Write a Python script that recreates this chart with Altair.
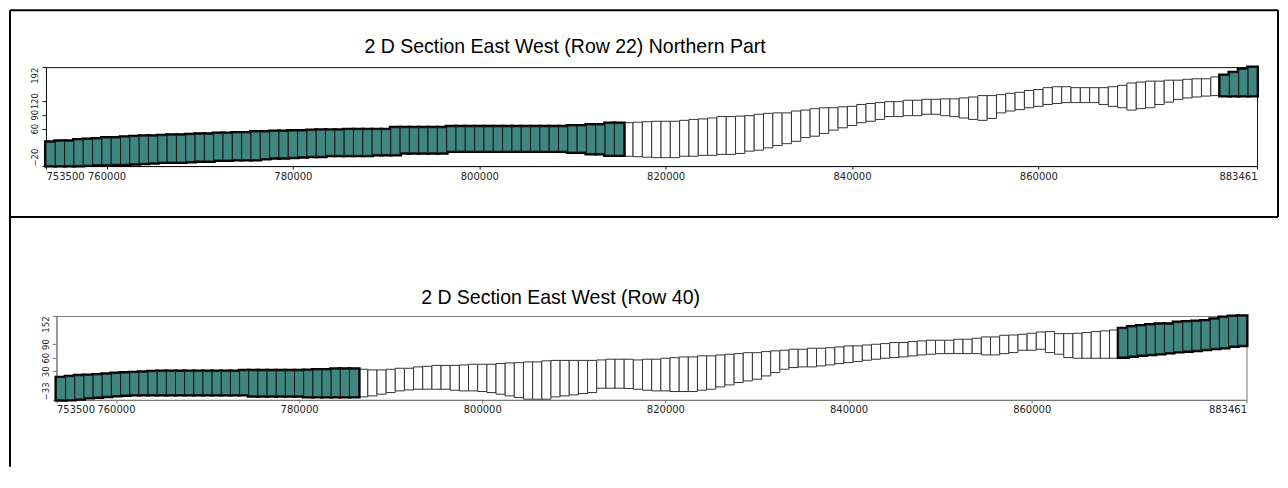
import altair as alt
import pandas as pd

# ---------------- data ----------------
X_MIN, X_MAX = 753500, 883461
CELL = 1000
X_TICKS = [753500, 760000, 780000, 800000, 820000, 840000, 860000, 883461]

P1_TITLE = "2 D Section East West (Row 22) Northern Part"
P1_YTICKS = [-20, 60, 90, 120, 192]
P1_ZONES = [("active", 62), ("inactive", 64), ("active", 4)]
P1_TOP = [
    31, 33, 33, 36, 37, 38, 40, 40, 42, 43,
    44, 44, 45, 46, 46, 47, 48, 48, 50, 50,
    51, 51, 53, 53, 54, 54, 55, 55, 56, 57,
    57, 57, 58, 58, 58, 58, 58, 62, 62, 62,
    62, 62, 62, 64, 64, 64, 64, 64, 64, 64,
    64, 64, 64, 64, 64, 64, 66, 66, 68, 68,
    71, 71,
    73, 74, 75, 76, 76, 76, 78, 80,
    81, 83, 86, 86, 87, 88, 91, 93, 94, 94,
    98, 100, 103, 105, 105, 107, 108, 112, 114, 116,
    118, 118, 121, 121, 123, 123, 124, 124, 126, 128,
    131, 131, 133, 136, 138, 142, 144, 148, 150, 150,
    148, 148, 148, 148, 150, 153, 158, 160, 162, 162,
    164, 164, 166, 167, 167, 171,
    174, 180, 187, 191,
]
P1_BOT = [
    -19, -19, -18.6, -18.6, -18, -17, -16.5, -16, -16, -15,
    -14, -13, -11.5, -11.5, -11.5, -10, -9, -9, -7, -7,
    -6, -6, -6, -4, -2, -2, -1, 0, 1, 1,
    3, 3, 3, 3, 3, 5, 5, 5, 8.5, 8.5,
    8.5, 8.5, 8.5, 12, 12, 12, 12, 12, 12, 12,
    12, 12, 12, 12, 12, 12, 10, 10, 7, 7,
    3.5, 3.5,
    1, 0, -1, -2, -2, -2, 1, 1,
    3, 3, 5, 5, 7, 12, 14, 19, 24, 28,
    33, 41, 44, 50, 57, 62, 67, 73, 76, 80,
    86, 86, 88, 88, 91, 91, 88, 86, 83, 80,
    78, 82, 94, 98, 101, 105, 108, 112, 114, 116,
    116, 116, 116, 112, 108, 105, 100, 103, 105, 112,
    117, 123, 126, 128, 130, 131,
    131, 131, 131, 131,
]

P2_TITLE = "2 D Section East West (Row 40)"
P2_YTICKS = [-33, 30, 60, 90, 152]
P2_ZONES = [("active", 33), ("inactive", 83), ("active", 14)]
P2_TOP = [
    16, 18, 20, 21, 22, 23.5, 25, 26, 27, 28,
    29, 29.5, 29.5, 29.5, 29.5, 29.5, 29.5, 29.5, 29.5, 29.5,
    31, 31, 31, 31, 31, 31, 31, 32, 33, 33,
    34.5, 34.5, 34.5,
    34.5, 33, 33, 34.5, 36.7, 36.7, 39.7, 41, 43, 43,
    43, 44, 45.5, 45.5, 45.5, 47, 48.5, 49, 50.7, 50.7,
    53, 54, 54, 54, 54, 54, 55, 56.6, 56.6, 56.6,
    55, 56.6, 56.6, 58.8, 60, 61.7, 61.7, 64, 64, 66,
    67.6, 69, 71, 71, 73.4, 75, 76.4, 78.6, 78.6, 80.8,
    80.8, 82, 83.7, 86, 86, 88, 89.6, 91, 93.3, 93.3,
    95.5, 97, 98.4, 98.4, 98.4, 100.6, 100.6, 102.8, 105.7, 105.7,
    109.4, 110, 111.6, 113.8, 116.7, 117.5, 113, 113, 113.8, 115.3,
    117.5, 119, 121,
    124, 127.7, 130, 132, 133.6, 133.6, 137.3, 138.8, 139.5, 141,
    144.6, 148.3, 150.5, 151.5,
]
P2_BOT = [
    -32.5, -32.3, -30.8, -28, -26.4, -25, -23.5, -22, -21.3, -21.3,
    -21.3, -21.3, -21.3, -21.3, -21.3, -21.3, -21.3, -21.3, -21.3, -21.3,
    -21.3, -24, -24, -24, -24, -24, -24, -25.7, -25.7, -25.7,
    -25.7, -25.7, -25.7,
    -26.4, -24.2, -20.5, -16.9, -13.2, -11, -9.5, -9.5, -9.5, -9.5,
    -11.7, -13.2, -13.2, -14.6, -16.9, -20.5, -24.2, -27.9, -31.5, -31.5,
    -31.5, -26.4, -24.2, -22, -19.1, -16.9, -7.3, -7.3, -7.3, -8,
    -9.5, -11.7, -13.2, -13.2, -14.6, -14.6, -14.6, -11.7, -9.5, -4.4,
    0, 5.2, 8.8, 12.5, 19.8, 27.2, 34.5, 38.2, 39.7, 39.7,
    41.9, 44.1, 47, 49.2, 51.4, 54.3, 56.6, 58.8, 60.2, 61.7,
    63.9, 66.1, 67.6, 69, 69, 69, 69, 69, 66.1, 66.1,
    69, 71.2, 76.4, 76.4, 78.6, 71.2, 67.6, 60.2, 58.8, 58.8,
    58.8, 58.8, 58.8,
    61.7, 63.9, 66.1, 67.6, 69, 71.2, 73.4, 74.9, 76.4, 78.6,
    80.8, 82.2, 85.9, 87.4,
]

TEAL = "#3f8680"
FONT = "Liberation Sans"
AXFONT = "DejaVu Sans"


def cells(top, bot, zones):
    kinds = []
    for k, n in zones:
        kinds += [k] * n
    rows = []
    for i, (t, b, k) in enumerate(zip(top, bot, kinds)):
        x0 = X_MIN + i * CELL
        rows.append({"x0": x0, "x1": min(x0 + CELL, X_MAX), "top": t, "bot": b, "kind": k})
    return pd.DataFrame(rows)


def panel(df, title, yticks, w, h, tx, ty, line_color, frame=False):
    lo, hi = yticks[0], yticks[-1]
    align_cond = {
        "condition": [
            {"test": f"datum.value <= {lo}", "value": "left"},
            {"test": f"datum.value >= {hi}", "value": "right"},
        ],
        "value": "center",
    }
    x = alt.X(
        "x0:Q",
        scale=alt.Scale(domain=[X_MIN, X_MAX], nice=False, zero=False),
        axis=alt.Axis(values=X_TICKS, format="d", labelFlush=True, labelOverlap=False,
                      grid=False, title=None, tickSize=3, labelPadding=2,
                      labelFont=AXFONT, labelFontSize=10, labelColor="#222",
                      domainColor=line_color, tickColor=line_color),
    )
    y = alt.Y(
        "bot:Q",
        scale=alt.Scale(domain=[lo, hi], nice=False, zero=False),
        axis=alt.Axis(values=yticks, labelAngle=270, labelAlign=align_cond,
                      grid=False, title=None, tickSize=4, labelPadding=2,
                      labelFont=AXFONT, labelFontSize=8.5, labelColor="#222",
                      domainColor=line_color, tickColor=line_color),
    )
    white = df[df.kind == "inactive"]
    teal = df[df.kind == "active"]
    l_white = alt.Chart(white).mark_rect(fill="white", stroke="#333", strokeWidth=1).encode(
        x=x, x2="x1:Q", y=y, y2="top:Q")
    l_out = alt.Chart(teal).mark_rect(fill="black", stroke="black", strokeWidth=4).encode(
        x=x, x2="x1:Q", y=y, y2="top:Q")
    l_fill = alt.Chart(teal).mark_rect(fill=TEAL, stroke="#1a1a1a", strokeWidth=1).encode(
        x=x, x2="x1:Q", y=y, y2="top:Q")
    one = pd.DataFrame({"label": [title]})
    l_title = alt.Chart(one).mark_text(
        font=FONT, fontSize=19.5, color="black", align="center", baseline="alphabetic"
    ).encode(text="label:N", x=alt.value(tx), y=alt.value(ty))
    layers = [l_white, l_out, l_fill, l_title]
    if frame:
        r = alt.Chart(one).mark_rule(color="black", strokeWidth=2)
        layers += [
            r.encode(x=alt.value(-36), x2=alt.value(1233), y=alt.value(-57)),
            r.encode(x=alt.value(-36), y=alt.value(-57), y2=alt.value(400)),
            r.encode(x=alt.value(1233), y=alt.value(-57), y2=alt.value(150)),
            r.encode(x=alt.value(-36), x2=alt.value(1233), y=alt.value(150)),
        ]
    return alt.layer(*layers).properties(
        width=w, height=h,
        view=alt.ViewBackground(stroke=line_color, strokeWidth=1),
    )


p1 = panel(cells(P1_TOP, P1_BOT, P1_ZONES), P1_TITLE, P1_YTICKS, 1212, 99, 519.5, -14, "#111", frame=True)
p2 = panel(cells(P2_TOP, P2_BOT, P2_ZONES), P2_TITLE, P2_YTICKS, 1191, 84, 504.5, -12, "#777")

chart = alt.vconcat(p1, p2, spacing=150, bounds="flush", center=True).properties(
    padding=0, background="white")

chart.save("out.html", embed_options={"renderer": "svg", "actions": False})
